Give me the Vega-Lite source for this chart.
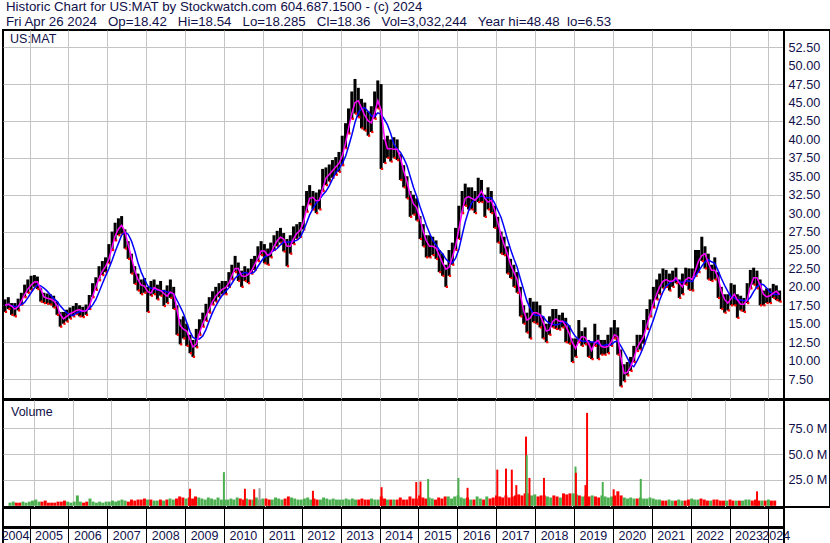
{
"$schema": "https://vega.github.io/schema/vega-lite/v6.json",
"padding": {"left": 0, "top": 0, "right": 0, "bottom": 0},
"spacing": -2,
"background": "white",
"config": {"view": {"stroke": "#000000", "strokeWidth": 2}, "font": "Liberation Sans"},
"datasets": {
"p": [
{"d":"2004-05-15","h":18.3,"l":16.6,"m":17.5,"b":17.5,"v":3,"u":"g"},
{"d":"2004-06-15","h":18.6,"l":17.0,"m":17.65,"b":17.65,"v":4,"u":"g"},
{"d":"2004-07-15","h":17.8,"l":16.2,"m":17.4,"b":17.43,"v":3,"u":"r"},
{"d":"2004-08-15","h":17.8,"l":16.0,"m":17.0,"b":17.33,"v":3,"u":"r"},
{"d":"2004-09-15","h":18.4,"l":16.8,"m":17.3,"b":17.38,"v":4,"u":"g"},
{"d":"2004-10-15","h":19.2,"l":17.6,"m":18.05,"b":17.58,"v":3,"u":"g"},
{"d":"2004-11-15","h":20.3,"l":18.6,"m":18.95,"b":17.9,"v":4,"u":"g"},
{"d":"2004-12-15","h":21.0,"l":19.2,"m":19.7,"b":18.5,"v":5,"u":"g"},
{"d":"2005-01-15","h":21.5,"l":19.6,"m":20.25,"b":19.2,"v":6,"u":"g"},
{"d":"2005-02-15","h":21.6,"l":20.0,"m":20.65,"b":19.84,"v":4,"u":"g"},
{"d":"2005-03-15","h":21.4,"l":19.7,"m":20.7,"b":20.26,"v":4,"u":"r"},
{"d":"2005-04-15","h":19.8,"l":18.0,"m":19.7,"b":20.14,"v":5,"u":"r"},
{"d":"2005-05-15","h":19.2,"l":17.8,"m":18.65,"b":19.84,"v":3,"u":"r"},
{"d":"2005-06-15","h":19.1,"l":17.7,"m":18.45,"b":19.42,"v":3,"u":"r"},
{"d":"2005-07-15","h":19.0,"l":17.6,"m":18.35,"b":18.92,"v":3,"u":"r"},
{"d":"2005-08-15","h":18.8,"l":17.2,"m":18.15,"b":18.4,"v":4,"u":"r"},
{"d":"2005-09-15","h":18.0,"l":16.2,"m":17.5,"b":18.04,"v":4,"u":"r"},
{"d":"2005-10-15","h":16.6,"l":14.6,"m":16.25,"b":17.44,"v":5,"u":"r"},
{"d":"2005-11-15","h":16.6,"l":15.0,"m":15.65,"b":16.92,"v":4,"u":"g"},
{"d":"2005-12-15","h":16.9,"l":15.3,"m":16.0,"b":16.5,"v":3,"u":"g"},
{"d":"2006-01-15","h":17.2,"l":15.7,"m":16.35,"b":16.2,"v":4,"u":"g"},
{"d":"2006-02-15","h":17.4,"l":16.0,"m":16.55,"b":16.12,"v":10,"u":"g"},
{"d":"2006-03-15","h":17.8,"l":16.3,"m":16.8,"b":16.42,"v":4,"u":"g"},
{"d":"2006-04-15","h":17.5,"l":16.0,"m":16.9,"b":16.62,"v":3,"u":"r"},
{"d":"2006-05-15","h":17.3,"l":15.9,"m":16.7,"b":16.7,"v":4,"u":"r"},
{"d":"2006-06-15","h":17.6,"l":16.2,"m":16.75,"b":16.78,"v":7,"u":"g"},
{"d":"2006-07-15","h":18.9,"l":17.0,"m":17.35,"b":17.02,"v":4,"u":"g"},
{"d":"2006-08-15","h":20.5,"l":18.6,"m":18.65,"b":17.52,"v":3,"u":"g"},
{"d":"2006-09-15","h":21.3,"l":19.6,"m":20.0,"b":18.26,"v":4,"u":"g"},
{"d":"2006-10-15","h":22.8,"l":20.9,"m":21.15,"b":19.3,"v":3,"u":"g"},
{"d":"2006-11-15","h":23.5,"l":21.6,"m":22.15,"b":20.42,"v":4,"u":"g"},
{"d":"2006-12-15","h":24.0,"l":22.0,"m":22.75,"b":21.46,"v":4,"u":"g"},
{"d":"2007-01-15","h":25.8,"l":23.2,"m":23.75,"b":22.46,"v":5,"u":"g"},
{"d":"2007-02-15","h":27.5,"l":25.0,"m":25.4,"b":23.62,"v":4,"u":"g"},
{"d":"2007-03-15","h":28.7,"l":26.3,"m":26.9,"b":24.76,"v":5,"u":"g"},
{"d":"2007-04-15","h":29.3,"l":27.0,"m":27.85,"b":25.9,"v":6,"u":"g"},
{"d":"2007-05-15","h":29.6,"l":27.2,"m":28.35,"b":27.0,"v":5,"u":"g"},
{"d":"2007-06-15","h":27.8,"l":25.2,"m":27.5,"b":27.4,"v":4,"u":"r"},
{"d":"2007-07-15","h":26.2,"l":23.8,"m":25.75,"b":27.14,"v":6,"u":"r"},
{"d":"2007-08-15","h":24.5,"l":21.8,"m":24.0,"b":26.24,"v":5,"u":"r"},
{"d":"2007-09-15","h":22.8,"l":20.4,"m":22.25,"b":24.9,"v":6,"u":"r"},
{"d":"2007-10-15","h":21.8,"l":19.5,"m":21.0,"b":23.3,"v":6,"u":"r"},
{"d":"2007-11-15","h":21.0,"l":19.0,"m":20.25,"b":22.0,"v":7,"u":"r"},
{"d":"2007-12-15","h":21.2,"l":19.2,"m":20.1,"b":21.04,"v":6,"u":"g"},
{"d":"2008-01-15","h":20.0,"l":16.6,"m":19.35,"b":20.14,"v":6,"u":"r"},
{"d":"2008-02-15","h":20.8,"l":18.8,"m":19.15,"b":19.8,"v":5,"u":"g"},
{"d":"2008-03-15","h":21.0,"l":19.0,"m":19.9,"b":19.7,"v":5,"u":"g"},
{"d":"2008-04-15","h":20.3,"l":18.3,"m":19.65,"b":19.56,"v":6,"u":"r"},
{"d":"2008-05-15","h":20.8,"l":18.8,"m":19.5,"b":19.46,"v":5,"u":"g"},
{"d":"2008-06-15","h":19.6,"l":17.4,"m":19.1,"b":19.46,"v":6,"u":"r"},
{"d":"2008-07-15","h":20.2,"l":17.8,"m":18.75,"b":19.3,"v":7,"u":"g"},
{"d":"2008-08-15","h":21.0,"l":18.5,"m":19.3,"b":19.22,"v":6,"u":"g"},
{"d":"2008-09-15","h":20.0,"l":17.0,"m":19.05,"b":19.06,"v":7,"u":"r"},
{"d":"2008-10-15","h":17.5,"l":13.5,"m":17.0,"b":18.22,"v":9,"u":"r"},
{"d":"2008-11-15","h":15.6,"l":12.2,"m":14.75,"b":17.32,"v":8,"u":"r"},
{"d":"2008-12-15","h":16.0,"l":13.0,"m":14.25,"b":16.42,"v":7,"u":"g"},
{"d":"2009-01-15","h":15.0,"l":12.0,"m":14.0,"b":15.2,"v":8,"u":"r"},
{"d":"2009-02-15","h":13.5,"l":11.0,"m":12.85,"b":13.94,"v":7,"u":"r"},
{"d":"2009-03-15","h":12.8,"l":10.5,"m":11.85,"b":13.14,"v":9,"u":"r"},
{"d":"2009-04-15","h":14.3,"l":11.8,"m":12.25,"b":12.94,"v":8,"u":"g"},
{"d":"2009-05-15","h":15.6,"l":13.5,"m":13.75,"b":12.94,"v":7,"u":"g"},
{"d":"2009-06-15","h":16.5,"l":14.6,"m":15.0,"b":13.34,"v":6,"u":"g"},
{"d":"2009-07-15","h":17.7,"l":15.4,"m":16.0,"b":14.2,"v":8,"u":"g"},
{"d":"2009-08-15","h":18.6,"l":16.5,"m":17.0,"b":15.4,"v":7,"u":"g"},
{"d":"2009-09-15","h":19.4,"l":17.6,"m":18.0,"b":16.5,"v":6,"u":"g"},
{"d":"2009-10-15","h":20.0,"l":18.0,"m":18.75,"b":17.4,"v":8,"u":"g"},
{"d":"2009-11-15","h":20.5,"l":18.6,"m":19.25,"b":18.2,"v":6,"u":"g"},
{"d":"2009-12-15","h":20.8,"l":19.0,"m":19.65,"b":18.86,"v":6,"u":"g"},
{"d":"2010-01-15","h":20.8,"l":19.0,"m":19.9,"b":19.36,"v":6,"u":"g"},
{"d":"2010-02-15","h":22.0,"l":20.0,"m":20.5,"b":19.86,"v":7,"u":"g"},
{"d":"2010-03-15","h":23.0,"l":21.0,"m":21.5,"b":20.46,"v":6,"u":"g"},
{"d":"2010-04-15","h":24.2,"l":22.0,"m":22.5,"b":21.16,"v":8,"u":"g"},
{"d":"2010-05-15","h":23.3,"l":20.8,"m":22.5,"b":21.6,"v":7,"u":"r"},
{"d":"2010-06-15","h":22.2,"l":20.0,"m":21.5,"b":21.8,"v":6,"u":"r"},
{"d":"2010-07-15","h":22.8,"l":20.8,"m":21.4,"b":21.96,"v":7,"u":"g"},
{"d":"2010-08-15","h":22.5,"l":20.5,"m":21.65,"b":21.86,"v":6,"u":"r"},
{"d":"2010-09-15","h":23.8,"l":21.8,"m":22.15,"b":21.82,"v":6,"u":"g"},
{"d":"2010-10-15","h":24.2,"l":22.3,"m":23.0,"b":22.06,"v":8,"u":"g"},
{"d":"2010-11-15","h":25.5,"l":23.5,"m":23.85,"b":22.76,"v":6,"u":"g"},
{"d":"2010-12-15","h":26.2,"l":24.3,"m":24.85,"b":23.44,"v":7,"u":"g"},
{"d":"2011-01-15","h":25.8,"l":23.2,"m":24.85,"b":24.04,"v":7,"u":"r"},
{"d":"2011-02-15","h":25.2,"l":23.0,"m":24.25,"b":24.28,"v":6,"u":"r"},
{"d":"2011-03-15","h":26.0,"l":24.0,"m":24.5,"b":24.64,"v":6,"u":"g"},
{"d":"2011-04-15","h":27.0,"l":25.0,"m":25.5,"b":24.94,"v":8,"u":"g"},
{"d":"2011-05-15","h":27.6,"l":25.5,"m":26.25,"b":25.2,"v":7,"u":"g"},
{"d":"2011-06-15","h":28.0,"l":26.0,"m":26.75,"b":25.7,"v":6,"u":"g"},
{"d":"2011-07-15","h":27.3,"l":24.8,"m":26.5,"b":26.1,"v":7,"u":"r"},
{"d":"2011-08-15","h":26.5,"l":22.8,"m":25.5,"b":26.1,"v":9,"u":"r"},
{"d":"2011-09-15","h":27.0,"l":24.5,"m":25.5,"b":26.1,"v":8,"u":"g"},
{"d":"2011-10-15","h":28.2,"l":25.8,"m":26.5,"b":26.2,"v":7,"u":"g"},
{"d":"2011-11-15","h":28.5,"l":26.5,"m":27.25,"b":26.3,"v":6,"u":"g"},
{"d":"2011-12-15","h":28.8,"l":26.8,"m":27.65,"b":26.66,"v":6,"u":"g"},
{"d":"2012-01-15","h":31.0,"l":27.8,"m":28.65,"b":27.56,"v":7,"u":"g"},
{"d":"2012-02-15","h":33.0,"l":30.2,"m":30.5,"b":28.66,"v":8,"u":"g"},
{"d":"2012-03-15","h":33.8,"l":31.2,"m":32.0,"b":29.76,"v":6,"u":"g"},
{"d":"2012-04-15","h":33.0,"l":30.5,"m":32.15,"b":30.62,"v":7,"u":"r"},
{"d":"2012-05-15","h":32.8,"l":30.0,"m":31.65,"b":31.36,"v":6,"u":"r"},
{"d":"2012-06-15","h":33.2,"l":30.5,"m":31.75,"b":31.86,"v":6,"u":"g"},
{"d":"2012-07-15","h":36.0,"l":33.0,"m":33.25,"b":32.46,"v":8,"u":"g"},
{"d":"2012-08-15","h":36.2,"l":33.8,"m":34.75,"b":32.96,"v":7,"u":"g"},
{"d":"2012-09-15","h":36.6,"l":34.3,"m":35.25,"b":33.7,"v":6,"u":"g"},
{"d":"2012-10-15","h":37.2,"l":34.8,"m":35.75,"b":34.6,"v":7,"u":"g"},
{"d":"2012-11-15","h":37.6,"l":35.2,"m":36.25,"b":35.5,"v":6,"u":"g"},
{"d":"2012-12-15","h":38.3,"l":35.6,"m":36.75,"b":36.0,"v":6,"u":"g"},
{"d":"2013-01-15","h":40.5,"l":36.5,"m":37.75,"b":36.7,"v":6,"u":"g"},
{"d":"2013-02-15","h":42.2,"l":38.8,"m":39.5,"b":37.7,"v":7,"u":"g"},
{"d":"2013-03-15","h":44.2,"l":40.8,"m":41.5,"b":39.0,"v":6,"u":"g"},
{"d":"2013-04-15","h":46.5,"l":42.8,"m":43.5,"b":40.6,"v":7,"u":"g"},
{"d":"2013-05-15","h":48.2,"l":43.5,"m":45.0,"b":42.3,"v":6,"u":"g"},
{"d":"2013-06-15","h":47.0,"l":43.0,"m":45.25,"b":43.6,"v":6,"u":"r"},
{"d":"2013-07-15","h":45.5,"l":41.5,"m":44.25,"b":44.2,"v":7,"u":"r"},
{"d":"2013-08-15","h":45.0,"l":41.2,"m":43.25,"b":44.3,"v":6,"u":"r"},
{"d":"2013-09-15","h":43.8,"l":40.5,"m":42.5,"b":43.8,"v":6,"u":"r"},
{"d":"2013-10-15","h":44.5,"l":41.0,"m":42.25,"b":43.2,"v":7,"u":"g"},
{"d":"2013-11-15","h":46.5,"l":42.8,"m":43.5,"b":43.1,"v":6,"u":"g"},
{"d":"2013-12-15","h":48.0,"l":44.2,"m":45.25,"b":43.6,"v":6,"u":"g"},
{"d":"2014-01-15","h":47.5,"l":36.0,"m":44.0,"b":43.4,"v":9,"u":"r"},
{"d":"2014-02-15","h":40.0,"l":36.8,"m":40.25,"b":42.7,"v":7,"u":"r"},
{"d":"2014-03-15","h":40.5,"l":37.5,"m":38.75,"b":42.0,"v":6,"u":"g"},
{"d":"2014-04-15","h":40.0,"l":37.0,"m":38.75,"b":40.8,"v":6,"u":"r"},
{"d":"2014-05-15","h":40.3,"l":37.5,"m":38.65,"b":39.36,"v":6,"u":"g"},
{"d":"2014-06-15","h":40.0,"l":37.2,"m":38.65,"b":38.66,"v":6,"u":"r"},
{"d":"2014-07-15","h":38.0,"l":34.5,"m":37.5,"b":38.26,"v":8,"u":"r"},
{"d":"2014-08-15","h":36.5,"l":33.5,"m":35.75,"b":37.46,"v":6,"u":"r"},
{"d":"2014-09-15","h":35.0,"l":32.0,"m":34.25,"b":36.46,"v":6,"u":"r"},
{"d":"2014-10-15","h":33.0,"l":29.5,"m":32.5,"b":35.0,"v":9,"u":"r"},
{"d":"2014-11-15","h":32.5,"l":29.8,"m":31.25,"b":33.5,"v":7,"u":"r"},
{"d":"2014-12-15","h":32.0,"l":29.0,"m":30.75,"b":32.3,"v":7,"u":"r"},
{"d":"2015-01-15","h":29.6,"l":26.5,"m":29.25,"b":30.9,"v":10,"u":"r"},
{"d":"2015-02-15","h":28.5,"l":25.5,"m":27.5,"b":29.6,"v":8,"u":"r"},
{"d":"2015-03-15","h":27.0,"l":24.0,"m":26.25,"b":28.4,"v":7,"u":"r"},
{"d":"2015-04-15","h":27.0,"l":24.0,"m":25.5,"b":27.3,"v":8,"u":"g"},
{"d":"2015-05-15","h":26.8,"l":24.3,"m":25.5,"b":26.3,"v":7,"u":"g"},
{"d":"2015-06-15","h":26.3,"l":23.8,"m":25.25,"b":25.7,"v":6,"u":"r"},
{"d":"2015-07-15","h":25.0,"l":22.0,"m":24.25,"b":25.0,"v":8,"u":"r"},
{"d":"2015-08-15","h":24.5,"l":21.5,"m":23.25,"b":24.5,"v":7,"u":"r"},
{"d":"2015-09-15","h":23.0,"l":20.0,"m":22.4,"b":23.76,"v":9,"u":"r"},
{"d":"2015-10-15","h":25.0,"l":21.5,"m":22.65,"b":23.36,"v":9,"u":"g"},
{"d":"2015-11-15","h":26.0,"l":23.0,"m":24.0,"b":23.26,"v":7,"u":"g"},
{"d":"2015-12-15","h":28.0,"l":25.0,"m":25.5,"b":23.86,"v":9,"u":"g"},
{"d":"2016-01-15","h":31.0,"l":26.5,"m":27.75,"b":25.06,"v":10,"u":"g"},
{"d":"2016-02-15","h":33.0,"l":30.0,"m":30.25,"b":27.0,"v":8,"u":"g"},
{"d":"2016-03-15","h":34.0,"l":31.0,"m":32.0,"b":28.8,"v":7,"u":"g"},
{"d":"2016-04-15","h":33.5,"l":30.5,"m":32.25,"b":30.3,"v":8,"u":"r"},
{"d":"2016-05-15","h":33.5,"l":30.5,"m":32.0,"b":31.4,"v":6,"u":"g"},
{"d":"2016-06-15","h":33.0,"l":30.0,"m":31.75,"b":31.9,"v":6,"u":"r"},
{"d":"2016-07-15","h":34.8,"l":31.5,"m":32.25,"b":32.2,"v":9,"u":"g"},
{"d":"2016-08-15","h":34.5,"l":31.5,"m":33.0,"b":32.3,"v":7,"u":"g"},
{"d":"2016-09-15","h":32.5,"l":29.5,"m":32.0,"b":32.1,"v":6,"u":"r"},
{"d":"2016-10-15","h":33.5,"l":30.5,"m":31.5,"b":32.1,"v":9,"u":"g"},
{"d":"2016-11-15","h":33.0,"l":30.0,"m":31.75,"b":32.1,"v":7,"u":"r"},
{"d":"2016-12-15","h":31.0,"l":28.0,"m":30.5,"b":31.4,"v":8,"u":"r"},
{"d":"2017-01-15","h":29.5,"l":26.0,"m":28.75,"b":30.4,"v":10,"u":"r"},
{"d":"2017-02-15","h":27.5,"l":24.5,"m":27.0,"b":29.4,"v":9,"u":"r"},
{"d":"2017-03-15","h":26.8,"l":24.3,"m":25.75,"b":28.1,"v":8,"u":"r"},
{"d":"2017-04-15","h":25.5,"l":21.8,"m":24.5,"b":26.5,"v":10,"u":"r"},
{"d":"2017-05-15","h":23.8,"l":21.2,"m":23.0,"b":25.1,"v":8,"u":"r"},
{"d":"2017-06-15","h":23.0,"l":20.0,"m":22.0,"b":23.8,"v":9,"u":"r"},
{"d":"2017-07-15","h":22.0,"l":19.2,"m":21.0,"b":22.7,"v":10,"u":"r"},
{"d":"2017-08-15","h":20.0,"l":16.0,"m":19.0,"b":21.1,"v":11,"u":"r"},
{"d":"2017-09-15","h":17.5,"l":15.0,"m":16.75,"b":19.6,"v":10,"u":"r"},
{"d":"2017-10-15","h":16.5,"l":13.8,"m":15.5,"b":18.1,"v":12,"u":"r"},
{"d":"2017-11-15","h":18.5,"l":13.0,"m":15.75,"b":17.1,"v":12,"u":"g"},
{"d":"2017-12-15","h":18.0,"l":15.2,"m":16.5,"b":16.3,"v":10,"u":"g"},
{"d":"2018-01-15","h":18.0,"l":15.0,"m":16.5,"b":16.1,"v":11,"u":"g"},
{"d":"2018-02-15","h":17.5,"l":14.5,"m":16.25,"b":16.1,"v":9,"u":"r"},
{"d":"2018-03-15","h":16.0,"l":13.0,"m":15.25,"b":16.0,"v":10,"u":"r"},
{"d":"2018-04-15","h":15.0,"l":12.5,"m":14.0,"b":15.4,"v":10,"u":"r"},
{"d":"2018-05-15","h":16.0,"l":13.5,"m":14.15,"b":15.06,"v":9,"u":"g"},
{"d":"2018-06-15","h":17.0,"l":14.5,"m":15.3,"b":14.92,"v":8,"u":"g"},
{"d":"2018-07-15","h":17.0,"l":14.3,"m":15.65,"b":14.82,"v":10,"u":"r"},
{"d":"2018-08-15","h":16.2,"l":14.2,"m":15.35,"b":14.96,"v":9,"u":"r"},
{"d":"2018-09-15","h":16.5,"l":14.5,"m":15.35,"b":15.36,"v":8,"u":"g"},
{"d":"2018-10-15","h":15.8,"l":12.5,"m":14.75,"b":15.2,"v":12,"u":"r"},
{"d":"2018-11-15","h":14.8,"l":12.3,"m":13.75,"b":14.74,"v":11,"u":"r"},
{"d":"2018-12-15","h":13.0,"l":9.8,"m":12.5,"b":13.94,"v":12,"u":"r"},
{"d":"2019-01-15","h":13.0,"l":10.5,"m":11.65,"b":13.26,"v":12,"u":"g"},
{"d":"2019-02-15","h":15.5,"l":12.5,"m":12.65,"b":12.86,"v":11,"u":"g"},
{"d":"2019-03-15","h":14.0,"l":12.0,"m":13.25,"b":12.66,"v":10,"u":"r"},
{"d":"2019-04-15","h":14.5,"l":12.2,"m":13.15,"b":12.62,"v":9,"u":"g"},
{"d":"2019-05-15","h":12.8,"l":10.5,"m":12.4,"b":12.62,"v":10,"u":"r"},
{"d":"2019-06-15","h":12.5,"l":10.2,"m":11.4,"b":12.52,"v":9,"u":"r"},
{"d":"2019-07-15","h":15.0,"l":12.0,"m":12.4,"b":12.52,"v":10,"u":"g"},
{"d":"2019-08-15","h":13.5,"l":10.2,"m":12.75,"b":12.32,"v":9,"u":"r"},
{"d":"2019-09-15","h":12.8,"l":10.8,"m":11.9,"b":12.02,"v":8,"u":"r"},
{"d":"2019-10-15","h":12.8,"l":10.8,"m":11.8,"b":12.08,"v":10,"u":"g"},
{"d":"2019-11-15","h":13.5,"l":11.0,"m":11.9,"b":12.22,"v":9,"u":"g"},
{"d":"2019-12-15","h":14.5,"l":12.0,"m":12.5,"b":12.12,"v":8,"u":"g"},
{"d":"2020-01-15","h":15.5,"l":13.0,"m":13.5,"b":12.52,"v":9,"u":"g"},
{"d":"2020-02-15","h":14.5,"l":10.8,"m":13.25,"b":12.66,"v":10,"u":"r"},
{"d":"2020-03-15","h":11.5,"l":6.5,"m":10.5,"b":12.0,"v":14,"u":"r"},
{"d":"2020-04-15","h":9.5,"l":7.2,"m":8.25,"b":11.2,"v":10,"u":"r"},
{"d":"2020-05-15","h":9.8,"l":8.0,"m":8.4,"b":10.36,"v":8,"u":"g"},
{"d":"2020-06-15","h":10.5,"l":8.6,"m":9.15,"b":9.46,"v":7,"u":"g"},
{"d":"2020-07-15","h":12.0,"l":9.8,"m":10.25,"b":9.16,"v":8,"u":"g"},
{"d":"2020-08-15","h":13.5,"l":11.3,"m":11.75,"b":9.96,"v":7,"u":"g"},
{"d":"2020-09-15","h":13.5,"l":11.5,"m":12.5,"b":10.86,"v":7,"u":"r"},
{"d":"2020-10-15","h":15.5,"l":12.3,"m":13.25,"b":11.9,"v":8,"u":"g"},
{"d":"2020-11-15","h":17.0,"l":14.3,"m":14.75,"b":13.1,"v":7,"u":"g"},
{"d":"2020-12-15","h":18.3,"l":16.0,"m":16.25,"b":14.3,"v":7,"u":"g"},
{"d":"2021-01-15","h":20.0,"l":17.2,"m":17.75,"b":15.5,"v":8,"u":"g"},
{"d":"2021-02-15","h":21.0,"l":18.3,"m":19.0,"b":16.9,"v":7,"u":"g"},
{"d":"2021-03-15","h":21.8,"l":19.0,"m":20.0,"b":18.2,"v":6,"u":"g"},
{"d":"2021-04-15","h":22.5,"l":19.8,"m":20.75,"b":19.3,"v":6,"u":"g"},
{"d":"2021-05-15","h":22.3,"l":20.0,"m":21.0,"b":20.1,"v":5,"u":"r"},
{"d":"2021-06-15","h":21.8,"l":19.5,"m":20.75,"b":20.5,"v":5,"u":"r"},
{"d":"2021-07-15","h":22.2,"l":20.0,"m":20.75,"b":20.8,"v":6,"u":"g"},
{"d":"2021-08-15","h":22.6,"l":20.5,"m":21.25,"b":21.0,"v":5,"u":"g"},
{"d":"2021-09-15","h":21.0,"l":18.5,"m":20.5,"b":20.7,"v":5,"u":"r"},
{"d":"2021-10-15","h":21.8,"l":19.0,"m":20.0,"b":20.6,"v":6,"u":"g"},
{"d":"2021-11-15","h":22.6,"l":20.3,"m":21.0,"b":20.8,"v":5,"u":"g"},
{"d":"2021-12-15","h":22.5,"l":19.6,"m":21.25,"b":20.8,"v":5,"u":"r"},
{"d":"2022-01-15","h":22.5,"l":19.5,"m":21.0,"b":20.7,"v":6,"u":"r"},
{"d":"2022-02-15","h":25.0,"l":21.5,"m":22.25,"b":21.5,"v":7,"u":"g"},
{"d":"2022-03-15","h":25.0,"l":22.0,"m":23.5,"b":22.1,"v":6,"u":"g"},
{"d":"2022-04-15","h":26.8,"l":23.5,"m":24.25,"b":22.8,"v":6,"u":"g"},
{"d":"2022-05-15","h":25.5,"l":22.5,"m":24.5,"b":23.4,"v":7,"u":"r"},
{"d":"2022-06-15","h":24.5,"l":21.0,"m":23.25,"b":23.7,"v":6,"u":"r"},
{"d":"2022-07-15","h":23.0,"l":20.8,"m":22.25,"b":23.4,"v":5,"u":"r"},
{"d":"2022-08-15","h":24.0,"l":21.0,"m":22.25,"b":23.2,"v":5,"u":"g"},
{"d":"2022-09-15","h":22.0,"l":18.5,"m":21.25,"b":22.2,"v":6,"u":"r"},
{"d":"2022-10-15","h":20.0,"l":17.0,"m":19.4,"b":21.16,"v":6,"u":"r"},
{"d":"2022-11-15","h":19.0,"l":16.5,"m":18.3,"b":20.22,"v":5,"u":"r"},
{"d":"2022-12-15","h":19.0,"l":16.8,"m":17.8,"b":19.38,"v":5,"u":"r"},
{"d":"2023-01-15","h":20.5,"l":17.5,"m":18.4,"b":18.68,"v":5,"u":"g"},
{"d":"2023-02-15","h":20.3,"l":17.5,"m":19.0,"b":18.48,"v":6,"u":"r"},
{"d":"2023-03-15","h":19.0,"l":15.8,"m":18.25,"b":18.22,"v":5,"u":"r"},
{"d":"2023-04-15","h":18.8,"l":16.8,"m":17.65,"b":18.22,"v":5,"u":"g"},
{"d":"2023-05-15","h":18.5,"l":16.6,"m":17.65,"b":18.16,"v":5,"u":"r"},
{"d":"2023-06-15","h":20.5,"l":17.8,"m":18.25,"b":18.16,"v":5,"u":"g"},
{"d":"2023-07-15","h":22.3,"l":19.8,"m":20.0,"b":18.56,"v":6,"u":"g"},
{"d":"2023-08-15","h":22.6,"l":20.3,"m":21.25,"b":19.36,"v":6,"u":"g"},
{"d":"2023-09-15","h":22.2,"l":19.8,"m":21.25,"b":20.0,"v":5,"u":"r"},
{"d":"2023-10-15","h":21.0,"l":17.5,"m":20.25,"b":20.4,"v":6,"u":"r"},
{"d":"2023-11-15","h":19.5,"l":17.5,"m":19.0,"b":20.3,"v":5,"u":"r"},
{"d":"2023-12-15","h":19.8,"l":17.8,"m":18.65,"b":19.86,"v":5,"u":"g"},
{"d":"2024-01-15","h":19.8,"l":17.8,"m":18.8,"b":19.32,"v":5,"u":"r"},
{"d":"2024-02-15","h":20.4,"l":18.5,"m":19.15,"b":19.02,"v":6,"u":"g"},
{"d":"2024-03-15","h":20.2,"l":18.2,"m":19.4,"b":18.98,"v":5,"u":"r"},
{"d":"2024-04-15","h":19.5,"l":18.0,"m":18.95,"b":19.0,"v":5,"u":"r"}
],
"s": [
{"d":"2009-01-22","v":16.5,"u":"r"},{"d":"2009-12-10","v":32.6,"u":"g"},{"d":"2010-06-28","v":16.5,"u":"r"},{"d":"2010-09-24","v":16,"u":"r"},{"d":"2010-11-14","v":17,"u":"n"},{"d":"2012-04-05","v":14.5,"u":"r"},{"d":"2014-01-18","v":18,"u":"r"},{"d":"2014-12-14","v":23,"u":"r"},{"d":"2015-01-23","v":23.5,"u":"r"},{"d":"2015-04-06","v":26,"u":"g"},{"d":"2016-01-19","v":27,"u":"g"},{"d":"2016-04-15","v":17.4,"u":"r"},{"d":"2017-01-23","v":35,"u":"r"},{"d":"2017-04-16","v":36,"u":"r"},{"d":"2017-06-10","v":35,"u":"r"},{"d":"2017-07-23","v":20,"u":"r"},{"d":"2017-10-23","v":67,"u":"r"},{"d":"2017-10-30","v":49,"u":"g"},{"d":"2017-11-25","v":27,"u":"r"},{"d":"2018-04-12","v":27,"u":"r"},{"d":"2019-02-06","v":38,"u":"g"},{"d":"2019-02-10","v":32,"u":"r"},{"d":"2019-05-12","v":20,"u":"r"},{"d":"2019-05-27","v":90,"u":"r"},{"d":"2019-10-23","v":23,"u":"g"},{"d":"2020-02-04","v":16,"u":"r"},{"d":"2020-10-19","v":26,"u":"g"},{"d":"2023-10-30","v":14,"u":"r"}
],
"yr": [
{"d":"2004-08-22","y":"2004"},{"d":"2005-07-02","y":"2005"},{"d":"2006-07-02","y":"2006"},{"d":"2007-07-02","y":"2007"},{"d":"2008-07-02","y":"2008"},{"d":"2009-07-02","y":"2009"},{"d":"2010-07-02","y":"2010"},{"d":"2011-07-02","y":"2011"},{"d":"2012-07-02","y":"2012"},{"d":"2013-07-02","y":"2013"},{"d":"2014-07-02","y":"2014"},{"d":"2015-07-02","y":"2015"},{"d":"2016-07-02","y":"2016"},{"d":"2017-07-02","y":"2017"},{"d":"2018-07-02","y":"2018"},{"d":"2019-07-02","y":"2019"},{"d":"2020-07-02","y":"2020"},{"d":"2021-07-02","y":"2021"},{"d":"2022-07-02","y":"2022"},{"d":"2023-07-02","y":"2023"},{"d":"2024-03-14","y":"2024"}
]
},
"vconcat": [
{
"width": 827, "height": 30,
"data": {"values": [{}]},
"mark": {"type": "text"},
"encoding": {"text": {"value": ""}},
"title": {"text": ["Historic Chart for US:MAT by Stockwatch.com 604.687.1500 - (c) 2024", "Fri Apr 26 2024\u00a0\u00a0 Op=18.42\u00a0\u00a0 Hi=18.54\u00a0\u00a0 Lo=18.285\u00a0\u00a0 Cl=18.36\u00a0\u00a0 Vol=3,032,244\u00a0\u00a0 Year hi=48.48\u00a0 lo=6.53"], "anchor": "start", "orient": "top", "offset": -28, "dx": 3, "fontSize": 13.3, "fontWeight": "normal", "font": "Liberation Sans", "color": "#10104a", "lineHeight": 14.7}
},
{
"spacing": 0,
"bounds": "flush",
"hconcat": [
{
"width": 781, "height": 369,
"data": {"name": "p"},
"title": {"text": "US:MAT", "anchor": "start", "orient": "top", "offset": -15, "dx": 8, "fontSize": 12.5, "fontWeight": "normal", "font": "Liberation Sans", "color": "#10104a"},
"encoding": {
"x": {"field": "d", "type": "temporal", "scale": {"domain": [{"year": 2004, "month": 4, "date": 26}, {"year": 2024, "month": 5, "date": 26}]}, "axis": {"grid": true, "gridColor": "#c4c4c4", "labels": false, "ticks": false, "domain": false, "title": null, "tickCount": {"interval": "year", "step": 1}}}
},
"layer": [
{"mark": {"type": "rule", "color": "#000000", "strokeWidth": 3},
 "encoding": {"y": {"field": "l", "type": "quantitative", "scale": {"domain": [4.79, 54.84], "nice": false, "zero": false}, "axis": {"values": [7.5,10,12.5,15,17.5,20,22.5,25,27.5,30,32.5,35,37.5,40,42.5,45,47.5,50,52.5], "grid": true, "gridColor": "#c4c4c4", "labels": false, "ticks": false, "domain": false, "title": null}}, "y2": {"field": "h"}}},
{"mark": {"type": "point", "shape": "square", "filled": true, "size": 5, "color": "#ff0000", "opacity": 1, "xOffset": 1},
 "encoding": {"y": {"field": "l", "type": "quantitative"}}},
{"mark": {"type": "line", "color": "#0000ff", "strokeWidth": 1.5},
 "encoding": {"y": {"field": "b", "type": "quantitative"}}},
{"mark": {"type": "line", "color": "#ff00ff", "strokeWidth": 1.5},
 "encoding": {"y": {"field": "m", "type": "quantitative"}}}
]
},
{
"width": 46, "height": 369,
"data": {"name": "p"},
"mark": {"type": "tick", "opacity": 0},
"encoding": {"y": {"field": "h", "type": "quantitative", "scale": {"domain": [4.79, 54.84], "nice": false, "zero": false}, "axis": {"orient": "left", "values": [7.5,10,12.5,15,17.5,20,22.5,25,27.5,30,32.5,35,37.5,40,42.5,45,47.5,50,52.5], "format": ".2f", "labelAlign": "left", "labelBaseline": "middle", "labelPadding": -4, "tickSize": 0, "ticks": false, "domain": false, "grid": false, "title": null, "labelFontSize": 12.7, "labelFont": "Liberation Sans", "labelColor": "#10104a", "labelOverlap": false}}}
}
]
},
{
"spacing": 0,
"bounds": "flush",
"hconcat": [
{
"width": 781, "height": 107,
"title": {"text": "Volume", "anchor": "start", "orient": "top", "offset": -18, "dx": 8, "fontSize": 12.5, "fontWeight": "normal", "font": "Liberation Sans", "color": "#10104a"},
"encoding": {
"x": {"field": "d", "type": "temporal", "scale": {"domain": [{"year": 2004, "month": 4, "date": 26}, {"year": 2024, "month": 5, "date": 26}]}, "axis": {"grid": true, "gridColor": "#c4c4c4", "labels": false, "ticks": false, "domain": false, "title": null, "tickCount": {"interval": "year", "step": 1}}},
"y": {"field": "v", "type": "quantitative", "scale": {"domain": [-1.2, 102.5], "nice": false, "zero": false}, "axis": {"values": [25, 50, 75], "grid": true, "gridColor": "#c4c4c4", "labels": false, "ticks": false, "domain": false, "title": null}},
"color": {"field": "u", "type": "nominal", "scale": {"domain": ["g", "r", "n"], "range": ["#4caf50", "#ff0000", "#a0a0a0"]}, "legend": null}
},
"layer": [
{"data": {"name": "p"}, "mark": {"type": "bar", "size": 3}},
{"data": {"name": "s"}, "mark": {"type": "bar", "size": 2}}
]
},
{
"width": 46, "height": 107,
"data": {"values": [{"v": 25}, {"v": 50}, {"v": 75}]},
"mark": {"type": "tick", "opacity": 0},
"encoding": {"y": {"field": "v", "type": "quantitative", "scale": {"domain": [-1.2, 102.5], "nice": false, "zero": false}, "axis": {"orient": "left", "values": [25, 50, 75], "labelExpr": "format(datum.value, '.1f') + ' M'", "labelAlign": "left", "labelBaseline": "middle", "labelPadding": -4, "tickSize": 0, "ticks": false, "domain": false, "grid": false, "title": null, "labelFontSize": 12.7, "labelFont": "Liberation Sans", "labelColor": "#10104a", "labelOverlap": false}}}
}
]
},
{
"spacing": 0,
"bounds": "flush",
"hconcat": [
{
"width": 781, "height": 19,
"data": {"name": "p"},
"mark": {"type": "tick", "opacity": 0},
"encoding": {"x": {"field": "d", "type": "temporal", "scale": {"domain": [{"year": 2004, "month": 4, "date": 26}, {"year": 2024, "month": 5, "date": 26}]}, "axis": {"grid": true, "gridColor": "#000000", "gridOpacity": 1, "labels": false, "ticks": false, "domain": false, "title": null, "tickCount": {"interval": "year", "step": 1}}}}
},
{
"width": 46, "height": 19,
"data": {"values": [{}]},
"mark": {"type": "text"},
"encoding": {"text": {"value": ""}}
}
]
},
{
"spacing": 0,
"bounds": "flush",
"hconcat": [
{
"width": 781, "height": 16,
"encoding": {"x": {"field": "d", "type": "temporal", "scale": {"domain": [{"year": 2004, "month": 4, "date": 26}, {"year": 2024, "month": 5, "date": 26}]}, "axis": {"grid": true, "gridColor": "#000000", "gridOpacity": 1, "labels": false, "ticks": false, "domain": false, "title": null, "tickCount": {"interval": "year", "step": 1}}}},
"layer": [
{"data": {"name": "p"}, "mark": {"type": "tick", "opacity": 0}},
{"data": {"name": "yr"}, "mark": {"type": "text", "fontSize": 12.5, "font": "Liberation Sans", "color": "#10104a", "baseline": "middle", "align": "center"}, "encoding": {"text": {"field": "y"}}}
]
},
{
"width": 46, "height": 16,
"data": {"values": [{}]},
"mark": {"type": "text"},
"encoding": {"text": {"value": ""}}
}
]
}
]
}
